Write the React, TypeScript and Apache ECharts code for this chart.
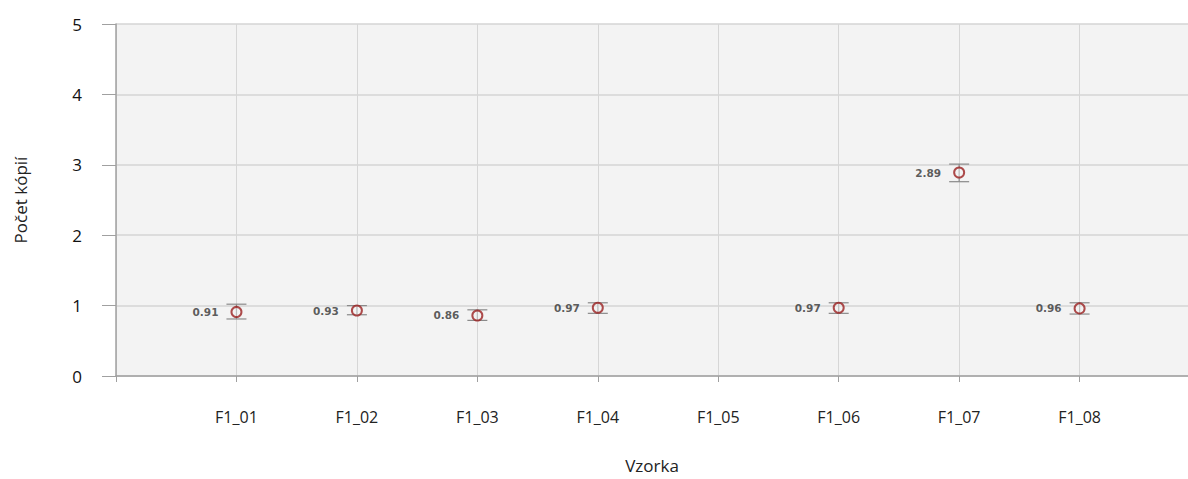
import React, { useEffect, useRef } from "react";
import * as echarts from "echarts";

const categories = ["F1_01", "F1_02", "F1_03", "F1_04", "F1_05", "F1_06", "F1_07", "F1_08"];
const means: (number | null)[] = [0.91, 0.93, 0.86, 0.97, null, 0.97, 2.89, 0.96];
const lows: (number | null)[] = [0.81, 0.87, 0.79, 0.89, null, 0.89, 2.76, 0.88];
const highs: (number | null)[] = [1.02, 1.0, 0.94, 1.04, null, 1.04, 3.01, 1.04];
const yTicks = [0, 1, 2, 3, 4, 5];

export default function App() {
  const ref = useRef<HTMLDivElement>(null);
  useEffect(() => {
    if (!ref.current) return;
    const chart = echarts.init(ref.current, undefined, { renderer: "svg" });
    const pts: [number, number][] = [];
    const errs: [number, number, number][] = [];
    means.forEach((m, i) => {
      if (m !== null) {
        pts.push([i + 1, m]);
        errs.push([i + 1, lows[i] as number, highs[i] as number]);
      }
    });
    const font = "'Open Sans', 'Noto Sans', sans-serif";
    chart.setOption({
      animation: false,
      backgroundColor: "#ffffff",
      grid: {
        left: 116,
        right: 0,
        top: 24,
        bottom: 103,
        show: true,
        backgroundColor: "#f3f3f3",
        borderWidth: 0,
        containLabel: false,
        outerBoundsMode: "none",
      },
      xAxis: {
        type: "value",
        min: 0,
        max: 8.9,
        interval: 1,
        name: "Vzorka",
        nameLocation: "middle",
        nameGap: 81,
        nameTextStyle: { fontFamily: font, fontSize: 17, color: "#222" },
        axisLine: { show: true, onZero: false, lineStyle: { color: "#a0a0a0", width: 1.5 } },
        axisTick: { show: true, length: 6, lineStyle: { color: "#a0a0a0" } },
        axisLabel: {
          margin: 33,
          fontFamily: font,
          fontSize: 16,
          color: "#222",
          showMaxLabel: false,
          formatter: (v: number) => (v >= 1 && v <= categories.length && Number.isInteger(v) ? categories[v - 1] : ""),
        },
        splitLine: { show: true, lineStyle: { color: "#d6d6d6", width: 1 } },
      },
      yAxis: {
        type: "value",
        min: 0,
        max: 5,
        interval: 1,
        name: "Počet kópií",
        nameLocation: "middle",
        nameGap: 87,
        nameRotate: 90,
        nameTextStyle: { fontFamily: font, fontSize: 17, color: "#222" },
        axisLine: { show: true, lineStyle: { color: "#a0a0a0", width: 1.5 } },
        axisTick: { show: true, length: 14, lineStyle: { color: "#a0a0a0" } },
        axisLabel: {
          margin: 34,
          fontFamily: font,
          fontSize: 17,
          color: "#111",
          formatter: (v: number) => (yTicks.includes(v) ? String(v) : ""),
        },
        splitLine: { show: true, lineStyle: { color: "#d4d4d4", width: 1.5 } },
      },
      series: [
        {
          type: "custom",
          data: errs,
          z: 2,
          renderItem: (params: any, api: any) => {
            const x = api.value(0);
            const lo = api.coord([x, api.value(1)]);
            const hi = api.coord([x, api.value(2)]);
            const hw = 10;
            const style = { stroke: "#8a8a8a", lineWidth: 1.2 };
            return {
              type: "group",
              children: [
                { type: "line", shape: { x1: lo[0], y1: lo[1], x2: hi[0], y2: hi[1] }, style },
                { type: "line", shape: { x1: lo[0] - hw, y1: lo[1], x2: lo[0] + hw, y2: lo[1] }, style },
                { type: "line", shape: { x1: hi[0] - hw, y1: hi[1], x2: hi[0] + hw, y2: hi[1] }, style },
              ],
            };
          },
        },
        {
          type: "scatter",
          data: pts,
          z: 3,
          symbol: "circle",
          symbolSize: 10,
          itemStyle: { color: "rgba(243,243,243,0.6)", borderColor: "#9a1f1f", borderWidth: 2 },
          label: {
            show: true,
            position: "left",
            distance: 12,
            fontFamily: "'DejaVu Sans', sans-serif",
            fontWeight: "bold",
            fontSize: 10.5,
            color: "#333",
            formatter: (p: any) => p.value[1].toFixed(2),
          },
        },
      ],
    });
    return () => chart.dispose();
  }, []);
  return <div ref={ref} style={{ position: "fixed", left: 0, top: 0, width: 1188, height: 479 }} />;
}
